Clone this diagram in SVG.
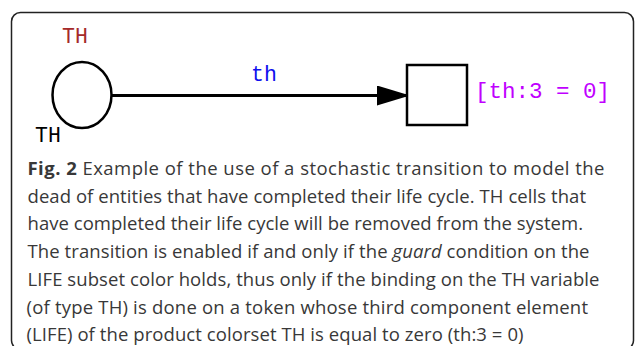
<svg xmlns="http://www.w3.org/2000/svg" width="636" height="346" viewBox="0 0 636 346">
<style>
.mono{font-family:"Liberation Mono","DejaVu Sans Mono",monospace;font-size:21.5px}
.cap{font-family:"Open Sans","Noto Sans",sans-serif;font-size:18.5px;fill:#383838}
.node{fill:#fff;stroke:#000;stroke-width:2.5}
</style>
<defs>
<marker id="arr" markerUnits="userSpaceOnUse" markerWidth="34" markerHeight="22" refX="33" refY="10" orient="auto">
<path d="M0,0 L33,10 L0,20 Z" fill="#000"/>
</marker>
</defs>
<rect x="11.5" y="12.5" width="622" height="337" rx="9" fill="#fff" stroke="#222" stroke-width="1.5"/>
<g id="connectors">
<line x1="112" y1="95.5" x2="410" y2="95.5" stroke="#000" stroke-width="3" marker-end="url(#arr)"/>
<text class="mono" x="251" y="81" fill="#1010ee">th</text>
</g>
<g id="place-TH">
<ellipse class="node" cx="82" cy="95" rx="29.5" ry="33"/>
<text class="mono" x="62" y="43" fill="#a52a2a">TH</text>
<text class="mono" x="35" y="142" fill="#000">TH</text>
</g>
<g id="transition">
<rect class="node" x="407" y="65" width="60" height="60"/>
<text class="mono" x="475" y="98" fill="#c000ff" style="font-size:22.5px">[th:3 = 0]</text>
</g>
<g id="caption">
<text class="cap" x="27.5" y="175" textLength="577"><tspan font-weight="bold">Fig. 2</tspan> Example of the use of a stochastic transition to model the</text>
<text class="cap" x="27.5" y="202.7" textLength="558.5">dead of entities that have completed their life cycle. TH cells that</text>
<text class="cap" x="27.5" y="230.4" textLength="555.5">have completed their life cycle will be removed from the system.</text>
<text class="cap" x="27.5" y="258.1" textLength="562">The transition is enabled if and only if the <tspan font-style="italic">guard</tspan> condition on the</text>
<text class="cap" x="27.5" y="285.8" textLength="572">LIFE subset color holds, thus only if the binding on the TH variable</text>
<text class="cap" x="26.5" y="313.5" textLength="561.5">(of type TH) is done on a token whose third component element</text>
<text class="cap" x="26.5" y="341.2" textLength="497">(LIFE) of the product colorset TH is equal to zero (th:3 = 0)</text>
</g>
</svg>
